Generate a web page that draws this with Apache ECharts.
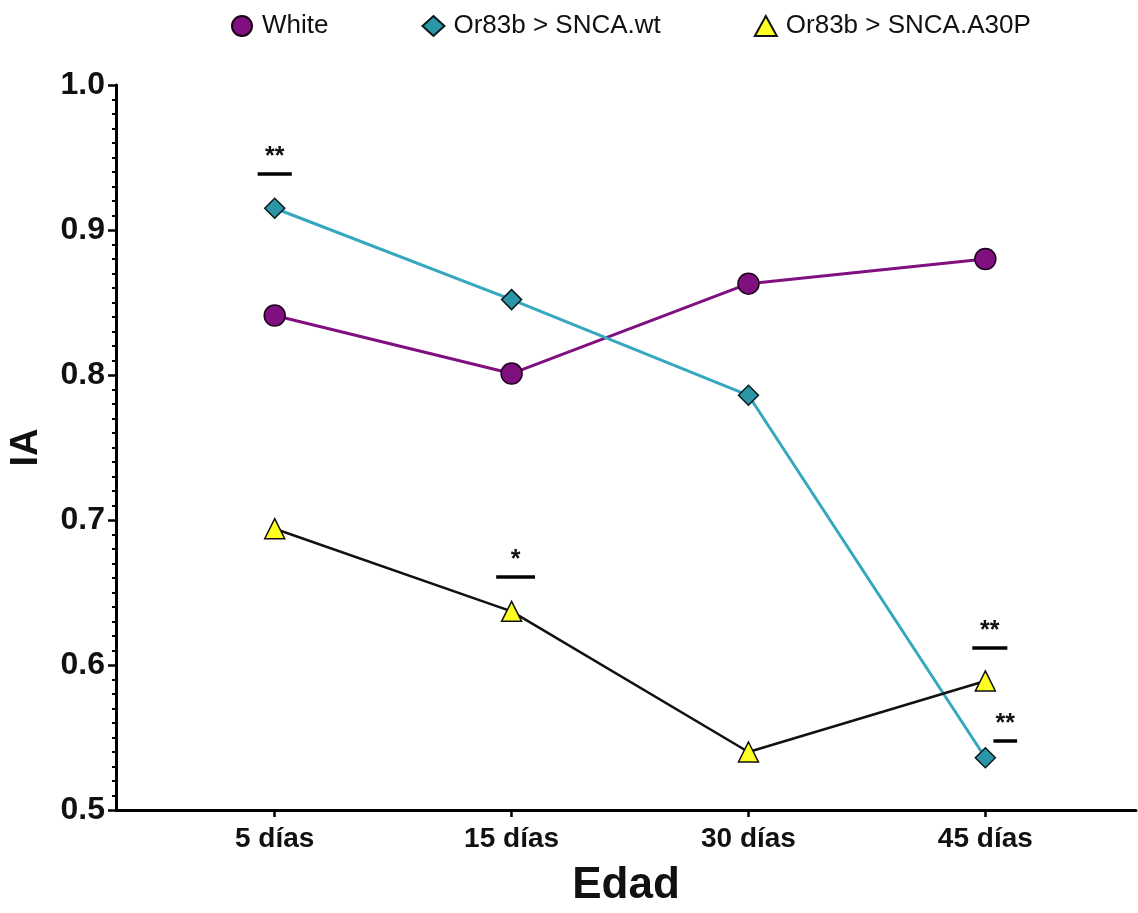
<!DOCTYPE html>
<html><head><meta charset="utf-8">
<script src="https://cdn.jsdelivr.net/npm/echarts@6/dist/echarts.min.js"></script>
<style>html,body{margin:0;padding:0;background:#fff}#c{width:1138px;height:913px}</style>
</head><body><div id="c"></div>
<script>
const categories = ['5 días', '15 días', '30 días', '45 días'];
const white = [0.841, 0.801, 0.863, 0.880];
const sncaWt = [0.915, 0.852, 0.786, 0.536];
const sncaA30P = [0.694, 0.637, 0.540, 0.589];
const yTicks = [0.5, 0.6, 0.7, 0.8, 0.9, 1.0];
// significance bars: category position, y value, half width (category units), label
const sigX = [0, 1.017, 3.019, 3.084];
const sigY = [0.9386, 0.661, 0.612, 0.548];
const sigHalf = [0.072, 0.082, 0.074, 0.05];
const sigText = ['**', '*', '**', '**'];

const FONT = 'Liberation Sans, Arial, sans-serif';
const chart = echarts.init(document.getElementById('c'));
const idx = categories.map((_, i) => i);
const toPts = arr => arr.map((v, i) => [i, v]);

const sigLines = sigX.map((x, i) => [
  {coord: [x - sigHalf[i], sigY[i]], label: {show: true, formatter: sigText[i]}},
  {coord: [x + sigHalf[i], sigY[i]]}
]);

chart.setOption({
  animation: false,
  legend: {
    top: 8, left: 226, itemGap: 93, itemWidth: 22, itemHeight: 20,
    textStyle: {fontFamily: FONT, fontSize: 26, color: '#111', padding: [0, 0, 0, 4]},
    data: [
      {name: 'White', icon: 'circle'},
      {name: 'Or83b > SNCA.wt', icon: 'diamond'},
      {name: 'Or83b > SNCA.A30P', icon: 'triangle'}
    ]
  },
  grid: {left: 114, right: 2, top: 85, bottom: 103},
  xAxis: {
    type: 'value', min: -0.67, max: 3.636,
    name: 'Edad', nameLocation: 'middle', nameGap: 54,
    nameTextStyle: {fontFamily: FONT, fontWeight: 'bold', fontSize: 44, color: '#111'},
    axisLine: {onZero: false, lineStyle: {color: '#000', width: 3}},
    axisTick: {show: true, customValues: idx, length: 7, lineStyle: {color: '#000', width: 2.5}},
    axisLabel: {customValues: idx, formatter: v => categories[Math.round(v)],
      fontFamily: FONT, fontWeight: 'bold', fontSize: 28, color: '#111', margin: 15},
    splitLine: {show: false}
  },
  yAxis: {
    type: 'value', min: 0.5, max: 1.0, interval: 0.1,
    name: 'IA', nameLocation: 'middle', nameGap: 70, nameRotate: 90,
    nameTextStyle: {fontFamily: FONT, fontWeight: 'bold', fontSize: 38, color: '#111'},
    axisLine: {show: true, onZero: false, lineStyle: {color: '#000', width: 3}},
    axisTick: {show: true, length: 8, lineStyle: {color: '#000', width: 2.5}},
    minorTick: {show: true, splitNumber: 10, length: 4, lineStyle: {color: '#000', width: 2}},
    axisLabel: {formatter: v => v.toFixed(1), fontFamily: FONT, fontWeight: 'bold', fontSize: 32, color: '#111', margin: 11},
    splitLine: {show: false}
  },
  series: [
    {
      name: 'White', type: 'line', data: toPts(white), symbol: 'circle', symbolSize: 21, z: 3,
      lineStyle: {color: '#80107F', width: 3}, itemStyle: {color: '#80107F', borderColor: '#1a001a', borderWidth: 1.5}
    },
    {
      name: 'Or83b > SNCA.wt', type: 'line', data: toPts(sncaWt), symbol: 'diamond', symbolSize: 20, z: 4,
      lineStyle: {color: '#35A7BE', width: 3}, itemStyle: {color: '#2B96A8', borderColor: '#0a1a1a', borderWidth: 1.5}
    },
    {
      name: 'Or83b > SNCA.A30P', type: 'line', data: toPts(sncaA30P), symbol: 'triangle', symbolSize: 20, z: 5,
      lineStyle: {color: '#111', width: 2.5}, itemStyle: {color: '#FFFF22', borderColor: '#111', borderWidth: 1.5}
    },
    {
      name: 'sig', type: 'line', data: [], silent: true,
      markLine: {
        symbol: 'none', silent: true, animation: false,
        lineStyle: {color: '#000', width: 3.5, type: 'solid'},
        label: {position: 'middle', distance: 4, fontFamily: FONT, fontWeight: 'bold', fontSize: 25, color: '#111'},
        data: sigLines
      }
    }
  ]
});
</script>
</body></html>
